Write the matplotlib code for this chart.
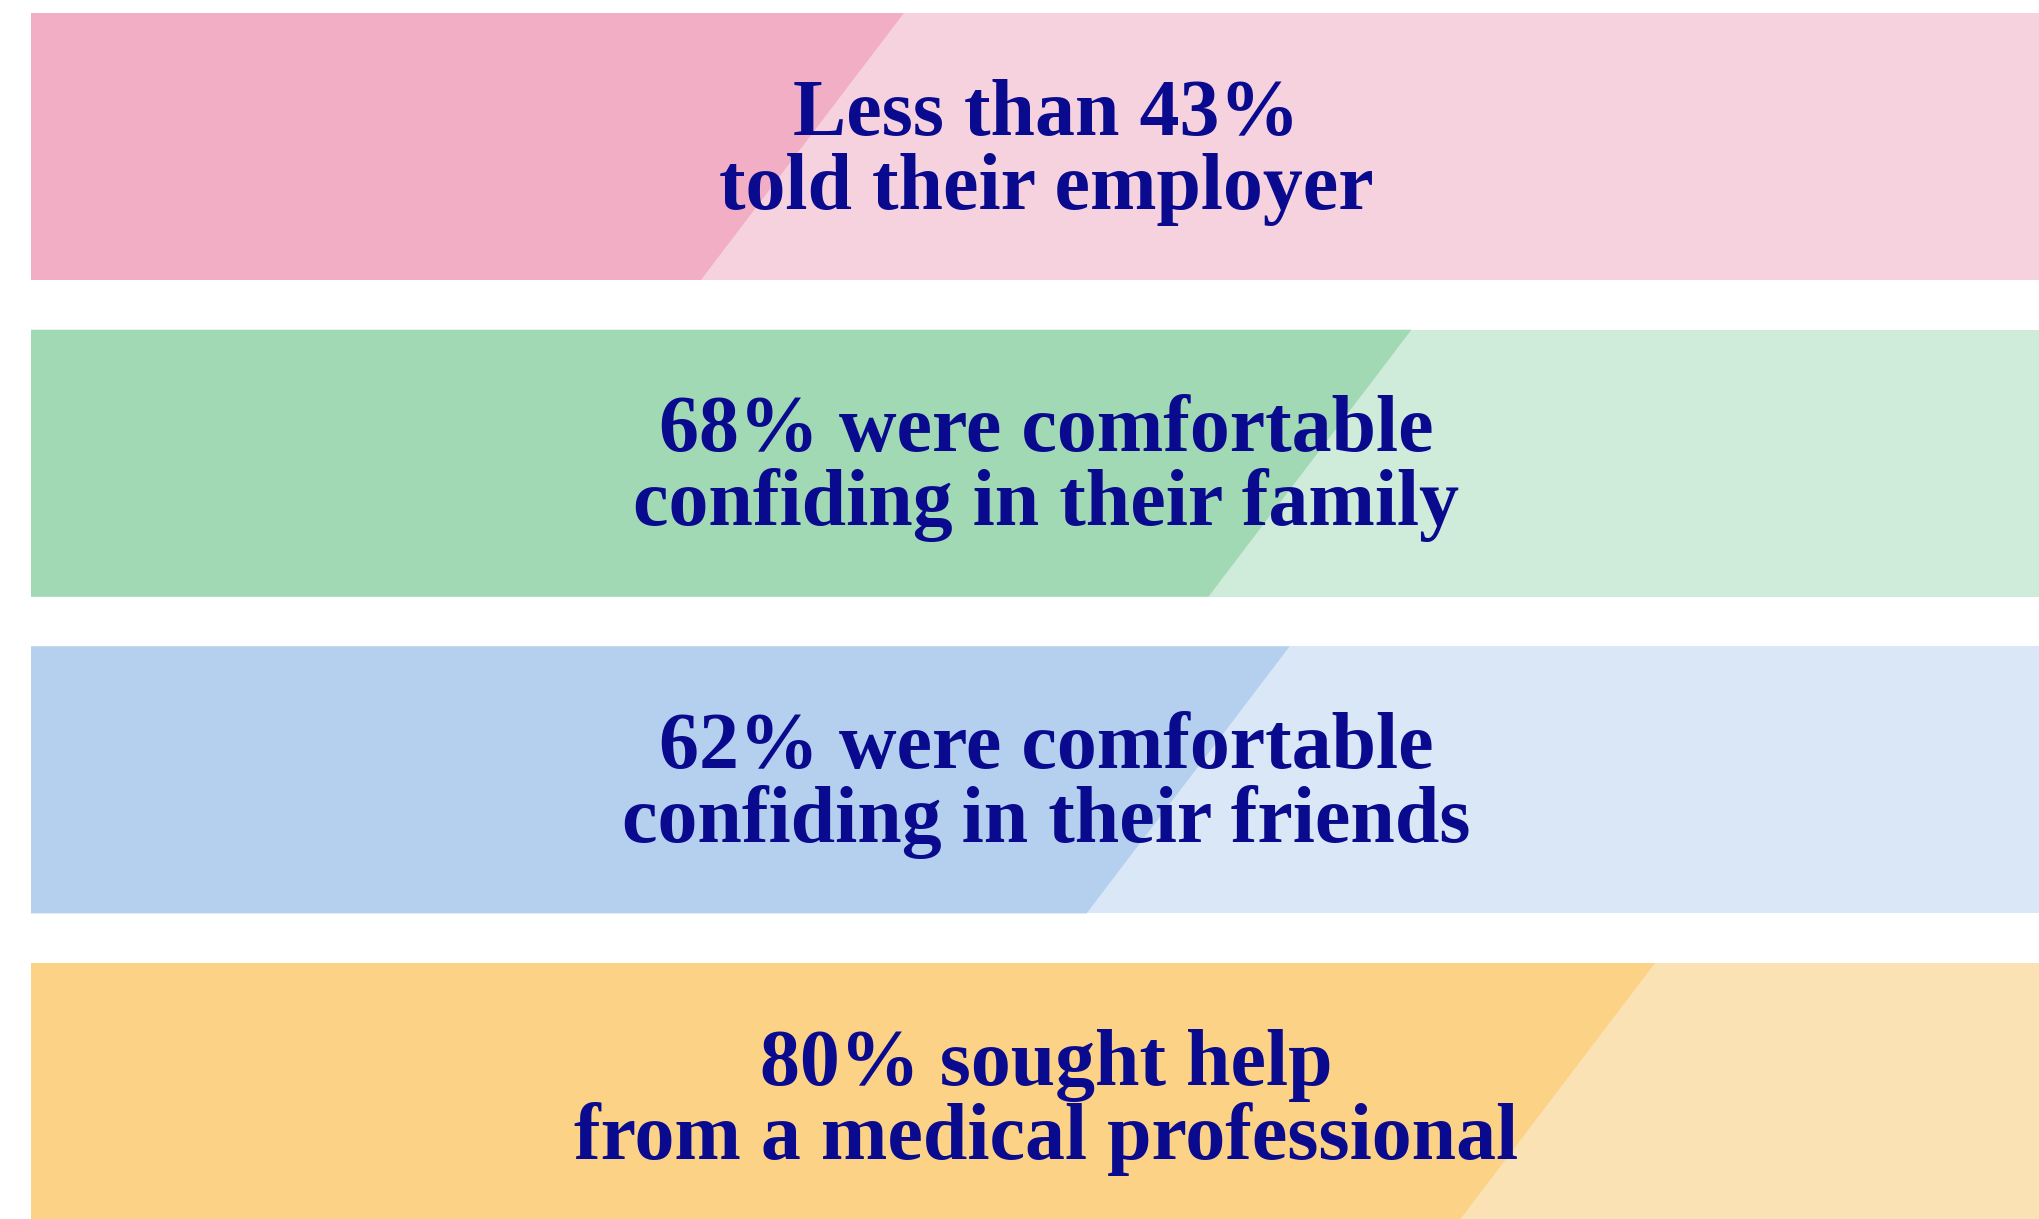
import matplotlib
matplotlib.use("Agg")
import matplotlib.pyplot as plt
from matplotlib.patches import Polygon, Rectangle

# ---- data ----
values = [43, 68, 62, 80]
line1 = ["Less than 43%", "68% were comfortable", "62% were comfortable", "80% sought help"]
line2 = ["told their employer", "confiding in their family", "confiding in their friends",
         "from a medical professional"]
dark_colors = ["#F1AEC5", "#A0D9B4", "#B4D0EE", "#FBD286"]
light_colors = ["#F6D2DF", "#CFEBD9", "#DAE7F7", "#FBE2B5"]
text_color = "#0A0A8E"

W, H = 2040, 1219
fig = plt.figure(figsize=(W / 100, H / 100), dpi=100)
ax = fig.add_axes([0, 0, 1, 1])

px_per_unit = 20.3          # pixels per percentage point
left_px = 31
row_px = 316.7
top_px = 13
bar_h = 267 / row_px
slant = 10.0                # horizontal shift of the diagonal across the bar height

ax.set_xlim(-left_px / px_per_unit, (W - left_px) / px_per_unit)
ax.set_ylim((H - top_px) / row_px, -top_px / row_px)
ax.axis("off")

for i, v in enumerate(values):
    y0, y1 = i, i + bar_h
    ax.add_patch(Rectangle((0, y0), 100, bar_h, facecolor=light_colors[i], edgecolor="none"))
    ax.add_patch(Polygon([(0, y0), (v, y0), (v - slant, y1), (0, y1)],
                         closed=True, facecolor=dark_colors[i], edgecolor="none"))
    cy = i + bar_h / 2
    ax.text(50, cy - 12 / row_px, line1[i], ha="center", va="baseline",
            fontsize=57.5, fontweight="bold", family="Liberation Serif", color=text_color)
    ax.text(50, cy + 62 / row_px, line2[i], ha="center", va="baseline",
            fontsize=57.5, fontweight="bold", family="Liberation Serif", color=text_color)

fig.savefig("out.png", dpi=100, facecolor="white")
